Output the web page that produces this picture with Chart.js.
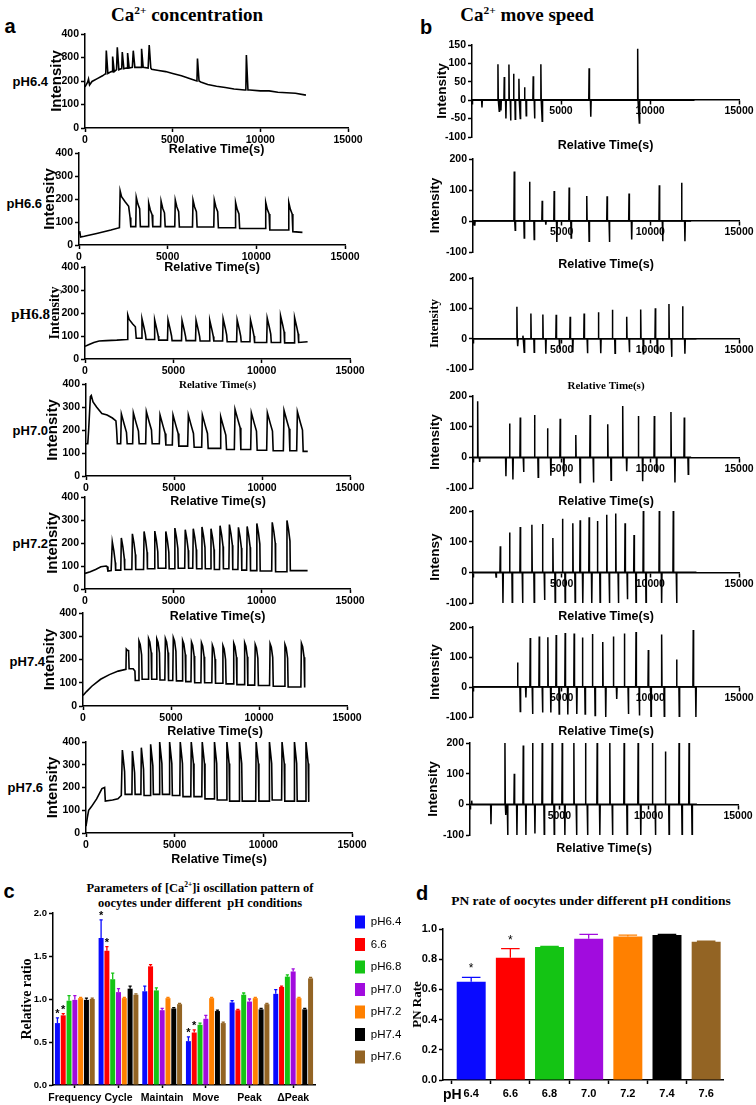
<!DOCTYPE html>
<html>
<head>
<meta charset="utf-8">
<script src="https://cdn.jsdelivr.net/npm/chart.js@4.4.1/dist/chart.umd.min.js"></script>
<style>
body { margin: 0; background: #fff; }
#page { position: relative; width: 756px; height: 1105px; overflow: hidden; background: #fff; }
#page canvas { position: absolute; left: 0; top: 0; }
.t { position: absolute; transform: translate(-50%, -50%); white-space: nowrap; color: #000; line-height: 1; }
.r { position: absolute; transform: translate(-100%, -50%); white-space: nowrap; color: #000; line-height: 1; }
.sans { font-family: 'Liberation Sans', Arial, sans-serif; font-weight: bold; }
.serif { font-family: 'Liberation Serif', 'Times New Roman', serif; font-weight: bold; }
sup { font-size: 0.6em; vertical-align: 0.6em; line-height: 0; }
</style>
</head>
<body>
<div id="page">
  <div class="t sans" style="left:10px;top:26px;font-size:20px">a</div>
  <div class="t sans" style="left:426px;top:27px;font-size:20px">b</div>
  <div class="t serif" style="left:187px;top:14px;font-size:19px">Ca<sup>2+</sup> concentration</div>
  <div class="t serif" style="left:527px;top:14px;font-size:19px">Ca<sup>2+</sup> move speed</div>

  <div class="r sans" style="left:48px;top:81px;font-size:13px">pH6.4</div>
  <div class="r sans" style="left:42px;top:203px;font-size:13px">pH6.6</div>
  <div class="r serif" style="left:50px;top:314px;font-size:15px">pH6.8</div>
  <div class="r sans" style="left:48px;top:430px;font-size:13px">pH7.0</div>
  <div class="r sans" style="left:48px;top:543px;font-size:13px">pH7.2</div>
  <div class="r sans" style="left:45px;top:661px;font-size:13px">pH7.4</div>
  <div class="r sans" style="left:43px;top:787px;font-size:13px">pH7.6</div>

  <div class="t sans" style="left:9px;top:891px;font-size:20px">c</div>
  <div class="t serif" style="left:200px;top:888px;font-size:12.5px">Parameters of [Ca<sup>2+</sup>]i oscillation pattern of</div>
  <div class="t serif" style="left:200px;top:903px;font-size:12.5px">oocytes under different&nbsp; pH conditions</div>

  <div class="t sans" style="left:422px;top:893px;font-size:20px">d</div>
  <div class="t serif" style="left:591px;top:901px;font-size:13.5px">PN rate of oocytes under different pH conditions</div>
</div>

<script>
// ---------- data: Ca2+ concentration traces (time s, intensity) ----------
const timeTicks = [0, 5000, 10000, 15000];
const concTicks = [0, 100, 200, 300, 400];

const conc64Base = [[0,175],[150,195],[200,208],[260,183],[400,198],[700,210],[1000,222],[1150,230],[1500,240],[1800,248],[2050,252],[2350,255],[2700,258],[3150,258],[3600,255],[3800,250],[4200,245],[4600,240],[5000,232],[5500,222],[6000,210],[6300,202],[6600,196],[7000,185],[7500,178],[8000,172],[8500,166],[9100,162],[9400,162],[10000,158],[10500,158],[11000,152],[11500,150],[12000,148],[12600,140]];
const conc64Spikes = [[1195,232,330],[1556,240,304],[1822,248,343],[2106,252,323],[2410,255,319],[2733,258,329],[3207,258,337],[3643,255,353],[6395,200,296],[9184,162,311]];

const conc66Start = [[0,50],[40,60],[90,35],[300,38],[1000,50],[1800,65],[2280,75],[2320,235],[2400,210],[2600,188],[2800,168],[2880,120],[2920,80]];
const conc66PeakT = [3200,3900,4600,5400,6400,7600,8800,10500,11800];
const conc66PeakV = [208,182,190,195,195,195,185,185,185];
const conc66Trough = [80,80,80,78,78,75,72,65,58];
const conc66Shape = [[30,0],[120,-30],[220,-50],[260,null]];
const conc66End = [12600,55];

const conc68Start = [[0,55],[200,62],[500,72],[800,78],[1200,80],[1800,82],[2380,85],[2420,192],[2500,172],[2700,152],[2850,140],[2900,90]];
const conc68PeakT = [3195,3913,4669,5463,6257,7032,7788,8582,9338,10284,11040,11834];
const conc68PeakV = [175,170,170,167,168,168,175,170,170,178,188,180];
const conc68Trough = [85,82,80,80,78,78,75,75,72,72,70,72];
const conc68Shape = [[30,0],[150,-40],[230,-70],[260,null]];
const conc68End = [12600,75];

const conc70Start = [[0,140],[100,140],[150,200],[250,345],[300,350],[400,322],[600,300],[900,272],[1200,265],[1500,252],[1700,240],[1740,200],[1780,140],[1900,140]];
const conc70PeakT = [1970,2650,3390,4167,4905,5776,6572,7614,8428,9356,10265,11212,11970];
const conc70PeakV = [270,275,280,265,265,265,265,258,290,275,275,285,280];
const conc70Trough = [140,140,140,135,130,125,120,115,115,112,110,110,107];
const conc70Shape = [[40,0],[200,-45],[330,-80],[370,null]];
const conc70End = [12600,107];

const conc72Start = [[0,68],[300,75],[600,85],[900,97],[1200,100],[1250,98],[1300,78],[1480,80]];
const conc72PeakT = [1515,2026,2652,3314,3920,4545,5057,5644,6098,6591,7102,7614,8144,8655,9148,9697,10568,11402];
const conc72PeakV = [205,222,240,250,252,250,265,258,262,270,262,275,280,268,272,285,290,298];
const conc72Trough = [82,85,85,88,90,88,90,90,88,88,85,88,85,82,80,78,75,80];
const conc72Shape = [[30,0],[120,-40],[200,-90],[220,null]];
const conc72End = [12600,80];

const conc74Start = [[0,45],[200,62],[500,85],[1000,115],[1500,135],[2000,150],[2440,158],[2460,245],[2520,240],[2590,238],[2620,160],[2850,160],[2950,150],[2970,110],[3100,110]];
const conc74PeakT = [3150,3695,4165,4650,5100,5630,6135,6700,7320,7920,8535,9155,9755,10600,11445,12380];
const conc74PeakV = [280,290,288,290,295,282,275,272,262,260,270,272,265,268,265,270];
const conc74Trough = [115,115,112,110,108,105,100,100,98,95,92,90,88,85,82,80];
const conc74Shape = [[30,0],[100,-15],[180,-60],[210,null]];
const conc74End = [12600,80];

const conc76Start = [[0,30],[80,70],[150,100],[300,115],[600,150],[900,195],[1050,200],[1090,140],[1500,145],[1800,150],[1990,165]];
const conc76PeakT = [2026,2590,3095,3620,4130,4690,5290,5910,6530,7220,7920,8630,9570,10320,11030,11730,12380];
const conc76PeakV = [365,360,375,390,400,400,400,400,400,400,400,400,400,400,400,400,400];
const conc76Trough = [170,170,165,170,170,165,160,160,150,145,140,140,140,145,140,140,140];
const conc76Shape = [[25,0],[150,-95],[180,null]];
const conc76End = [12600,140];

// ---------- data: Ca2+ move speed spikes (time s, intensity) ----------
const speedTicksA = [-100, -50, 0, 50, 100, 150];
const speedTicksB = [-100, -50, 0, 50, 100, 150, 200];
const speedTicksC = [-100, 0, 100, 200];

const speed64Up = [[1458,98],[1813,63],[2075,97],[2336,72],[2636,58],[2953,35],[3439,65],[3869,98],[6579,87],[9308,140]];
const speed64Down = [[560,-20],[1530,-30],[1626,-28],[1906,-50],[2168,-55],[2430,-52],[2710,-50],[3046,-42],[3514,-50],[3944,-57],[6673,-45],[9400,-62]];

const speed66Up = [[2326,160],[3190,127],[3902,65],[4577,97],[5422,108],[6416,81],[7561,80],[8799,89],[10506,115],[11763,123]];
const speed66Down = [[100,-15],[2380,-30],[2889,-55],[3452,-60],[4108,-12],[4728,-68],[5534,-55],[6548,-65],[7692,-68],[8949,-60],[10694,-65],[11951,-65]];

const speed68Up = [[2476,105],[2814,10],[3265,83],[3940,80],[4690,79],[5478,72],[6266,83],[7073,87],[7861,95],[8668,72],[9456,96],[10281,100],[11050,114],[11820,107]];
const speed68Down = [[2530,-25],[2890,-45],[3450,-45],[4108,-50],[4878,-35],[5628,-45],[6454,-48],[7205,-48],[8011,-48],[8818,-45],[9606,-50],[10394,-48],[11200,-60],[11950,-50]];

const speed70Up = [[263,183],[2064,110],[2664,130],[3471,138],[4203,95],[4916,126],[5797,73],[6604,138],[7598,108],[8443,167],[9325,135],[10225,135],[11163,148],[11914,130]];
const speed70Down = [[375,-15],[1857,-62],[2251,-72],[2852,-48],[3677,-65],[4390,-60],[5122,-62],[6041,-82],[6792,-82],[7786,-75],[8668,-45],[9568,-78],[10356,-50],[11388,-82],[12139,-55]];

const speed72Up = [[1538,85],[2064,130],[2664,148],[3321,155],[3921,158],[4503,112],[5047,175],[5629,160],[6041,170],[6548,180],[7017,167],[7542,188],[8049,192],[8574,160],[9081,122],[9606,200],[10506,200],[11294,200]];
const speed72Down = [[1300,-15],[1689,-100],[2214,-100],[2795,-100],[3452,-100],[4034,-90],[4634,-100],[5197,-100],[5760,-100],[6191,-100],[6698,-100],[7167,-100],[7692,-100],[8199,-100],[8705,-88],[9193,-100],[9756,-100],[10638,-100],[11482,-100]];

const speed74Up = [[2514,82],[3227,163],[3734,168],[4221,166],[4690,173],[5197,180],[5704,178],[6173,165],[6735,177],[7317,150],[7917,168],[8537,178],[9193,183],[9887,123],[10638,175],[11482,92],[12420,190]];
const speed74Down = [[2664,-82],[2983,-35],[3358,-90],[3921,-85],[4390,-85],[4859,-90],[5347,-92],[5854,-90],[6323,-90],[6886,-95],[7486,-100],[8105,-40],[8762,-90],[9381,-95],[10038,-100],[10788,-100],[11632,-100],[12570,-100]];

const speed76Up = [[93,12],[1956,200],[2478,100],[2981,192],[3503,200],[4043,200],[4602,200],[5161,200],[5814,200],[6466,200],[7118,200],[7826,200],[8627,200],[9410,200],[10211,200],[10938,172],[11702,200],[12261,200]];
const speed76Down = [[1174,-65],[2012,-35],[2106,-100],[2627,-100],[3130,-100],[3634,-95],[4155,-100],[4714,-100],[5310,-100],[5963,-100],[6578,-100],[7267,-100],[7975,-100],[8795,-100],[9559,-100],[10378,-100],[11142,-100],[11869,-100],[12428,-100]];

// ---------- data: oscillation parameters (panel c) ----------
const paramCats = ['Frequency', 'Cycle', 'Maintain', 'Move', 'Peak', '\u0394Peak'];
const phNames = ['pH6.4', '6.6', 'pH6.8', 'pH7.0', 'pH7.2', 'pH7.4', 'pH7.6'];
const ratio64 = [0.72, 1.71, 1.09, 0.51, 0.96, 1.06];
const ratio66 = [0.81, 1.56, 1.38, 0.61, 0.87, 1.14];
const ratio68 = [0.98, 1.23, 1.10, 0.70, 1.05, 1.26];
const ratio70 = [0.99, 1.08, 0.87, 0.77, 0.97, 1.32];
const ratio72 = [1.01, 1.01, 1.01, 1.01, 1.01, 1.01];
const ratio74 = [0.99, 1.12, 0.89, 0.86, 0.88, 0.88];
const ratio76 = [1.00, 1.05, 0.94, 0.72, 0.94, 1.24];
const err64 = [0.06, 0.21, 0.06, 0.05, 0.02, 0.05];
const err66 = [0.02, 0.05, 0.02, 0.03, 0.01, 0.01];
const err68 = [0.06, 0.07, 0.03, 0.02, 0.02, 0.02];
const err70 = [0.05, 0.04, 0.02, 0.04, 0.03, 0.03];
const err72 = [0.01, 0.01, 0.01, 0.01, 0.01, 0.01];
const err74 = [0.02, 0.03, 0.01, 0.01, 0.01, 0.01];
const err76 = [0.01, 0.01, 0.01, 0.01, 0.01, 0.01];
const star64 = [1, 1, 0, 1, 0, 0];
const star66 = [1, 1, 0, 1, 0, 0];
const ratioTicks = [0, 0.5, 1.0, 1.5, 2.0];

// ---------- data: PN rate (panel d) ----------
const pnLabels = ['6.4', '6.6', '6.8', '7.0', '7.2', '7.4', '7.6'];
const pnRate = [0.65, 0.81, 0.88, 0.935, 0.95, 0.96, 0.915];
const pnErr = [0.03, 0.06, 0.004, 0.03, 0.01, 0.004, 0.004];
const pnStar = [1, 1, 0, 0, 0, 0, 0];
const pnTicks = [0, 0.2, 0.4, 0.6, 0.8, 1.0];

// ---------- layout / style ----------
const SANS = "'Liberation Sans', Arial, sans-serif";
const SERIF = "'Liberation Serif', 'Times New Roman', serif";
const phColors = ['#0a0aff', '#ff0000', '#14c414', '#a10cde', '#ff8000', '#000000', '#936424'];

const CONC_ROWS = [
  {l: 85, t: 34, r: 348, b: 128, ty: 150, ix: 57},
  {l: 79, t: 153, r: 345, b: 245, ty: 268, ix: 50},
  {l: 85, t: 267, r: 350, b: 359, ty: 385, ix: 55, serif: true},
  {l: 86, t: 384, r: 350, b: 476, ty: 502, ix: 53},
  {l: 85, t: 497, r: 350, b: 589, ty: 617, ix: 53},
  {l: 83, t: 613, r: 347, b: 706, ty: 732, ix: 50},
  {l: 86, t: 742, r: 352, b: 833, ty: 860, ix: 53}
];
const SPEED_ROWS = [
  {l: 472, t: 45, r: 739, b: 137, ty: 146, ix: 442},
  {l: 473, t: 159, r: 739, b: 252, ty: 265, ix: 435},
  {l: 473, t: 278, r: 739, b: 369, ty: 386, ix: 435, serif: true},
  {l: 473, t: 396, r: 739, b: 488, ty: 502, ix: 435},
  {l: 473, t: 511, r: 739, b: 603, ty: 617, ix: 435},
  {l: 473, t: 627, r: 739, b: 717, ty: 732, ix: 435},
  {l: 470, t: 743, r: 738, b: 835, ty: 849, ix: 433}
];

Chart.defaults.font.family = SANS;
Chart.defaults.color = '#000';
Chart.defaults.animation = false;
Chart.defaults.plugins.legend.display = false;
Chart.defaults.plugins.tooltip.enabled = false;

function addCanvas() {
  const c = document.createElement('canvas');
  c.width = 756;
  c.height = 1105;
  document.getElementById('page').appendChild(c);
  return c;
}

const ticksAt = arr => scale => { scale.ticks = arr.map(v => ({value: v})); };

function axisBase(tickLen) {
  return {
    border: {display: true, color: '#000', width: 1.5},
    grid: {display: true, drawOnChartArea: false, drawTicks: true, tickLength: tickLen, tickColor: '#000', tickWidth: 1.5, color: '#000'}
  };
}

const hidden = {
  ticks: {display: false},
  grid: {display: false},
  border: {display: false}
};

// build a trace from start points, oscillation peaks and an end point
function oscTrace(start, peakT, peakV, trough, shape, end) {
  const pts = start.map(([x, y]) => ({x, y}));
  let base = start[start.length - 1][1];
  peakT.forEach((t, i) => {
    pts.push({x: t, y: base});
    shape.forEach(([dt, dv]) => {
      pts.push({x: t + dt, y: dv === null ? trough[i] : peakV[i] + dv});
    });
    base = trough[i];
  });
  pts.push({x: end[0], y: end[1]});
  return pts;
}

function spikeOnBase(base, spikes) {
  const pts = base.map(([x, y]) => ({x, y}));
  spikes.forEach(([t, b, p]) => {
    pts.push({x: t - 10, y: b}, {x: t + 20, y: p}, {x: t + 110, y: b});
  });
  return pts.sort((a, b) => a.x - b.x);
}

function speedTrace(ups, downs, end) {
  const ev = ups.concat(downs).sort((a, b) => a[0] - b[0]);
  const pts = [{x: 0, y: 0}];
  ev.forEach(([t, v]) => {
    pts.push({x: t - 20, y: 0}, {x: t, y: v}, {x: t + 20, y: 0});
  });
  pts.push({x: end, y: 0});
  return pts;
}

function concChart(row, pts) {
  const L = CONC_ROWS[row];
  const yW = 50, xH = 40;
  const tFont = L.serif ? {family: SERIF, weight: 'bold', size: 11} : {family: SANS, weight: 'bold', size: 12.5};
  const yFont = L.serif ? {family: SERIF, weight: 'bold', size: 14} : {family: SANS, weight: 'bold', size: 15};
  new Chart(addCanvas(), {
    type: 'line',
    data: {datasets: [{data: pts, borderColor: '#000', borderWidth: 1.6, pointRadius: 0, tension: 0}]},
    options: {
      responsive: false,
      devicePixelRatio: 1,
      layout: {padding: {left: L.l - yW, top: L.t, right: 756 - L.r, bottom: 1105 - L.b - xH}},
      scales: {
        x: {
          type: 'linear', min: 0, max: 15000,
          afterBuildTicks: ticksAt(timeTicks),
          afterFit: s => { s.height = xH; },
          ticks: {font: {weight: 'bold', size: 10.5}, padding: 2, maxRotation: 0, callback: v => String(v)},
          title: {display: true, text: 'Relative Time(s)', font: tFont,
                  padding: {top: 0, bottom: L.b + xH - tFont.size * 0.6 - L.ty}},
          ...axisBase(4)
        },
        y: {
          type: 'linear', min: 0, max: 400,
          afterBuildTicks: ticksAt(concTicks),
          afterFit: s => { s.width = yW; },
          ticks: {font: {weight: 'bold', size: 10.5}, padding: 2, callback: v => String(v)},
          title: {display: true, text: 'Intensity', font: yFont,
                  padding: {top: L.ix - (L.l - yW) - yFont.size * 0.6, bottom: 0}},
          ...axisBase(4)
        }
      }
    }
  });
}

function speedChart(row, pts, yLabel, yMax, yTicks) {
  const R = SPEED_ROWS[row];
  const yW = 50, xH = 40;
  const tFont = R.serif ? {family: SERIF, weight: 'bold', size: 11} : {family: SANS, weight: 'bold', size: 12.5};
  const yFont = R.serif ? {family: SERIF, weight: 'bold', size: 13} : {family: SANS, weight: 'bold', size: 13.5};
  new Chart(addCanvas(), {
    type: 'line',
    data: {datasets: [{data: pts, xAxisID: 'x', yAxisID: 'y', borderColor: '#000', borderWidth: 1.5, pointRadius: 0, tension: 0}]},
    options: {
      responsive: false,
      devicePixelRatio: 1,
      layout: {padding: {left: R.l - yW, top: R.t, right: 756 - R.r, bottom: 1105 - R.b - xH}},
      scales: {
        x: {
          type: 'linear', min: 0, max: 15000, position: {y: 0},
          afterBuildTicks: ticksAt(timeTicks),
          ticks: {font: {weight: 'bold', size: 10.5}, padding: 1, maxRotation: 0, callback: v => (v === 0 ? '' : String(v))},
          ...axisBase(4)
        },
        y: {
          type: 'linear', min: -100, max: yMax,
          afterBuildTicks: ticksAt(yTicks),
          afterFit: s => { s.width = yW; },
          ticks: {font: {weight: 'bold', size: 10.5}, padding: 2, callback: v => String(v)},
          title: {display: true, text: yLabel, font: yFont,
                  padding: {top: R.ix - (R.l - yW) - yFont.size * 0.6, bottom: 0}},
          ...axisBase(4)
        },
        xt: {
          type: 'linear', axis: 'x', position: 'bottom', min: 0, max: 1,
          afterFit: s => { s.height = xH; },
          title: {display: true, text: 'Relative Time(s)', font: tFont,
                  padding: {top: 0, bottom: R.b + xH - tFont.size * 0.6 - R.ty}},
          ...hidden
        }
      }
    }
  });
}

// ---------- panel a ----------
concChart(0, spikeOnBase(conc64Base, conc64Spikes));
concChart(1, oscTrace(conc66Start, conc66PeakT, conc66PeakV, conc66Trough, conc66Shape, conc66End));
concChart(2, oscTrace(conc68Start, conc68PeakT, conc68PeakV, conc68Trough, conc68Shape, conc68End));
concChart(3, oscTrace(conc70Start, conc70PeakT, conc70PeakV, conc70Trough, conc70Shape, conc70End));
concChart(4, oscTrace(conc72Start, conc72PeakT, conc72PeakV, conc72Trough, conc72Shape, conc72End));
concChart(5, oscTrace(conc74Start, conc74PeakT, conc74PeakV, conc74Trough, conc74Shape, conc74End));
concChart(6, oscTrace(conc76Start, conc76PeakT, conc76PeakV, conc76Trough, conc76Shape, conc76End));

// ---------- panel b ----------
speedChart(0, speedTrace(speed64Up, speed64Down, 12500), 'Intensity', 150, speedTicksA);
speedChart(1, speedTrace(speed66Up, speed66Down, 12300), 'Intensity', 200, speedTicksB);
speedChart(2, speedTrace(speed68Up, speed68Down, 12600), 'Intensity', 200, speedTicksC);
speedChart(3, speedTrace(speed70Up, speed70Down, 12300), 'Intensity', 200, speedTicksC);
speedChart(4, speedTrace(speed72Up, speed72Down, 12600), 'Intensy', 200, speedTicksC);
speedChart(5, speedTrace(speed74Up, speed74Down, 12600), 'Intensity', 200, speedTicksC);
speedChart(6, speedTrace(speed76Up, speed76Down, 12700), 'Intensity', 200, speedTicksC);

// ---------- error bars + stars ----------
const errorBars = {
  id: 'errorBars',
  afterDatasetsDraw(chart, args, opts) {
    const ctx = chart.ctx;
    const y = chart.scales.y;
    chart.data.datasets.forEach((ds, i) => {
      chart.getDatasetMeta(i).data.forEach((bar, j) => {
        const top = y.getPixelForValue(ds.data[j] + ds.errors[j]);
        const cap = bar.width * 0.32;
        ctx.save();
        ctx.strokeStyle = Array.isArray(ds.backgroundColor) ? ds.backgroundColor[j] : ds.backgroundColor;
        ctx.lineWidth = 1.3;
        ctx.beginPath();
        ctx.moveTo(bar.x, bar.y);
        ctx.lineTo(bar.x, top);
        ctx.moveTo(bar.x - cap, top);
        ctx.lineTo(bar.x + cap, top);
        ctx.stroke();
        if (ds.stars[j]) {
          ctx.fillStyle = '#000';
          ctx.font = opts.starFont;
          ctx.textAlign = 'center';
          ctx.textBaseline = 'alphabetic';
          ctx.fillText('*', bar.x, top - opts.starGap);
        }
        ctx.restore();
      });
    });
  }
};

// ---------- panel c ----------
const ratioSets = [ratio64, ratio66, ratio68, ratio70, ratio72, ratio74, ratio76];
const errSets = [err64, err66, err68, err70, err72, err74, err76];
const noStars = [0, 0, 0, 0, 0, 0];
const starSets = [star64, star66, noStars, noStars, noStars, noStars, noStars];

const legendFontSize = 11.5;
const measure = document.createElement('canvas').getContext('2d');
measure.font = legendFontSize + 'px ' + SANS;
const legendTextW = Math.max(...phNames.map(n => measure.measureText(n).width));
const legendPad = 9.5, legendBox = 10, gapR = 30.5;
const legendW = legendPad + legendBox + legendFontSize / 2 + legendTextW + 10;
const C = {l: 53, t: 913, r: 315, b: 1085};

new Chart(addCanvas(), {
  type: 'bar',
  data: {
    labels: paramCats,
    datasets: phNames.map((n, i) => ({
      label: n, data: ratioSets[i], errors: errSets[i], stars: starSets[i],
      xAxisID: 'x', yAxisID: 'y',
      backgroundColor: phColors[i], borderWidth: 0,
      categoryPercentage: 0.93, barPercentage: 0.86
    }))
  },
  options: {
    responsive: false,
    devicePixelRatio: 1,
    layout: {padding: {left: C.l - 50, top: C.t - 7, right: 756 - C.r - gapR - legendW, bottom: 1105 - C.b - 20}},
    plugins: {
      legend: {
        display: true, position: 'right', align: 'start',
        labels: {boxWidth: legendBox, boxHeight: 13, padding: legendPad, color: '#000', font: {family: SANS, size: legendFontSize}}
      },
      errorBars: {starFont: 'bold 11px ' + SANS, starGap: 1}
    },
    scales: {
      x: {
        type: 'category', position: 'bottom',
        afterFit: s => { s.height = 20; },
        ticks: {font: {weight: 'bold', size: 10.5}, padding: 4, maxRotation: 0, autoSkip: false},
        ...axisBase(3),
        grid: {display: true, offset: false, drawOnChartArea: false, drawTicks: true, tickLength: 3, tickColor: '#000', tickWidth: 1.5}
      },
      y: {
        type: 'linear', min: 0, max: 2.0,
        afterBuildTicks: ticksAt(ratioTicks),
        afterFit: s => { s.width = 50; },
        ticks: {font: {weight: 'bold', size: 9.5}, padding: 2, callback: v => v.toFixed(1)},
        title: {display: true, text: 'Relative ratio', font: {family: SERIF, weight: 'bold', size: 14},
                padding: {top: 27 - (C.l - 50) - 14 * 0.6, bottom: 0}},
        ...axisBase(4)
      },
      gapT: {type: 'linear', axis: 'x', position: 'top', min: 0, max: 1, afterFit: s => { s.height = 7; }, ...hidden},
      gapR: {type: 'linear', axis: 'y', position: 'right', min: 0, max: 1, afterFit: s => { s.width = gapR; }, ...hidden}
    }
  },
  plugins: [errorBars]
});

// ---------- panel d ----------
const D = {l: 443, t: 929, r: 723, b: 1080};
const pnIndex = pnLabels.map((_, i) => i);
new Chart(addCanvas(), {
  type: 'bar',
  data: {
    labels: pnIndex,
    datasets: [{
      data: pnRate, errors: pnErr, stars: pnStar,
      backgroundColor: phColors, borderWidth: 0,
      categoryPercentage: 1.0, barPercentage: 0.74
    }]
  },
  options: {
    responsive: false,
    devicePixelRatio: 1,
    layout: {padding: {left: D.l - 50, top: D.t, right: 756 - D.r, bottom: 1105 - D.b - 25}},
    plugins: {
      errorBars: {starFont: '12px ' + SANS, starGap: 5}
    },
    scales: {
      x: {
        type: 'linear', min: -0.72, max: 6.43, offset: false,
        afterBuildTicks: ticksAt(pnIndex),
        afterFit: s => { s.height = 25; },
        ticks: {font: {weight: 'bold', size: 11}, padding: 3, maxRotation: 0, callback: v => pnLabels[v]},
        title: {display: true, text: 'pH', align: 'start', font: {family: SANS, weight: 'bold', size: 14},
                padding: {top: 0, bottom: D.b + 25 - 14 * 0.6 - 1095}},
        ...axisBase(4)
      },
      y: {
        type: 'linear', min: 0, max: 1.0,
        afterBuildTicks: ticksAt(pnTicks),
        afterFit: s => { s.width = 50; },
        ticks: {font: {weight: 'bold', size: 11}, padding: 2, callback: v => v.toFixed(1)},
        title: {display: true, text: 'PN Rate', font: {family: SERIF, weight: 'bold', size: 13},
                padding: {top: 418 - (D.l - 50) - 13 * 0.6, bottom: 0}},
        ...axisBase(4)
      }
    }
  },
  plugins: [errorBars]
});
</script>
</body>
</html>
